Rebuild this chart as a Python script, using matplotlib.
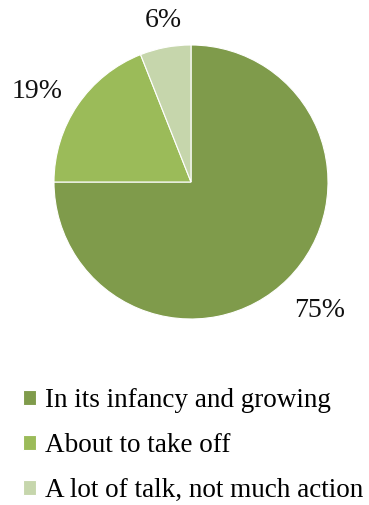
import matplotlib.pyplot as plt

labels = ["In its infancy and growing", "About to take off", "A lot of talk, not much action"]
shares = [75, 19, 6]
colors = ["#7F9B4B", "#9BBB59", "#C6D6AC"]

plt.rcParams["font.family"] = ["Liberation Serif", "DejaVu Serif"]

fig = plt.figure(figsize=(3.69, 5.05), dpi=100)
ax = fig.add_axes([54 / 369, 1 - 319 / 505, 274 / 369, 274 / 505])

wedges, _, autotexts = ax.pie(
    shares,
    colors=colors,
    startangle=90,
    counterclock=False,
    autopct="%1.0f%%",
    pctdistance=1.33,
    wedgeprops=dict(edgecolor="white", linewidth=0.8),
    textprops=dict(fontsize=20, color="#111111"),
)
# nudge the outside labels the way the original sits
x19, y19 = autotexts[1].get_position()
autotexts[1].set_position((x19 * 1.02, y19 * 0.88))
x6, y6 = autotexts[2].get_position()
autotexts[2].set_position((x6 * 0.8, y6 * 0.9))
for t in autotexts:
    t.set_clip_on(False)
ax.set_xlim(-1, 1)
ax.set_ylim(-1, 1)

fig.legend(
    wedges,
    labels,
    loc="upper left",
    bbox_to_anchor=(12 / 369, 1 - 377 / 505),
    frameon=False,
    fontsize=19.5,
    handlelength=0.48,
    handleheight=0.48,
    handletextpad=0.35,
    labelspacing=0.74,
    borderaxespad=0,
)

fig.savefig("out.png", dpi=100)
